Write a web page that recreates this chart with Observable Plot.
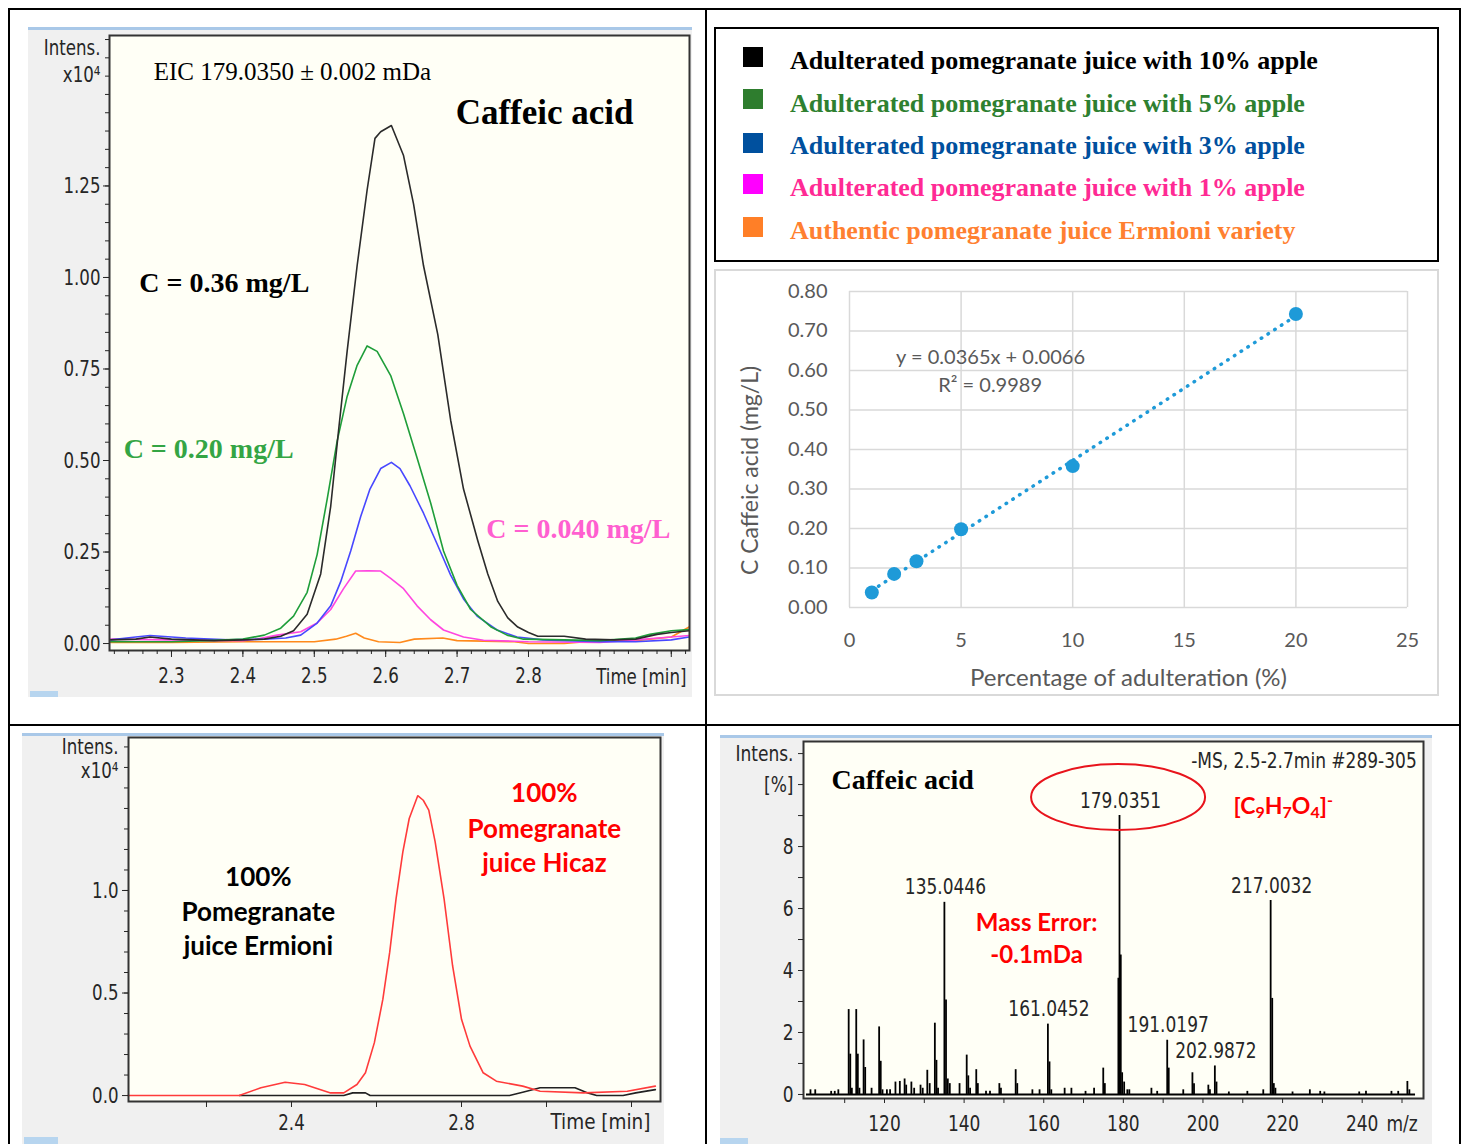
<!DOCTYPE html>
<html><head><meta charset="utf-8">
<script src="https://cdn.jsdelivr.net/npm/d3@7"></script>
<script src="https://cdn.jsdelivr.net/npm/@observablehq/plot@0.6"></script>
<style>
body{margin:0;background:#fff;}
#page{position:relative;width:1467px;height:1144px;overflow:hidden;background:#fff;}
.abs{position:absolute;}
</style></head><body><div id="page"></div>
<script>
// ---------- DATA ----------
// Top-left: EIC chromatograms (time [min], intensity x10^4)
const eic10 = [[2.215,0.01],[2.25,0.012],[2.27,0.018],[2.30,0.012],[2.33,0.01],[2.36,0.008],[2.40,0.01],[2.43,0.012],[2.453,0.02],[2.471,0.035],[2.490,0.08],[2.509,0.19],[2.523,0.375],[2.534,0.582],[2.546,0.798],[2.560,1.032],[2.574,1.239],[2.585,1.38],[2.593,1.398],[2.608,1.415],[2.625,1.333],[2.639,1.201],[2.653,1.032],[2.673,0.844],[2.691,0.610],[2.709,0.422],[2.729,0.281],[2.743,0.19],[2.757,0.115],[2.771,0.07],[2.785,0.045],[2.80,0.03],[2.813,0.02],[2.85,0.02],[2.88,0.012],[2.92,0.01],[2.95,0.012],[2.98,0.025],[3.0,0.03],[3.025,0.035]];
const eic5 = [[2.215,0.005],[2.30,0.005],[2.35,0.008],[2.40,0.012],[2.43,0.023],[2.453,0.042],[2.471,0.075],[2.490,0.140],[2.504,0.243],[2.518,0.394],[2.532,0.553],[2.546,0.675],[2.560,0.760],[2.574,0.813],[2.588,0.798],[2.607,0.732],[2.625,0.628],[2.644,0.507],[2.663,0.384],[2.681,0.253],[2.700,0.159],[2.719,0.093],[2.747,0.046],[2.770,0.023],[2.793,0.012],[2.85,0.01],[2.90,0.008],[2.95,0.015],[2.97,0.025],[3.0,0.035],[3.025,0.038]];
const eic3 = [[2.215,0.01],[2.25,0.018],[2.27,0.022],[2.32,0.015],[2.38,0.01],[2.43,0.012],[2.46,0.015],[2.481,0.023],[2.504,0.056],[2.523,0.103],[2.537,0.169],[2.551,0.253],[2.565,0.347],[2.578,0.422],[2.593,0.478],[2.608,0.495],[2.620,0.478],[2.634,0.431],[2.653,0.356],[2.672,0.272],[2.691,0.187],[2.709,0.122],[2.728,0.075],[2.756,0.037],[2.784,0.018],[2.82,0.01],[2.9,0.005],[2.95,0.005],[3.0,0.01],[3.025,0.018]];
const eic1 = [[2.215,0.012],[2.30,0.01],[2.40,0.008],[2.42,0.012],[2.448,0.023],[2.481,0.032],[2.504,0.056],[2.523,0.093],[2.541,0.150],[2.558,0.198],[2.575,0.199],[2.593,0.198],[2.607,0.178],[2.625,0.150],[2.644,0.103],[2.663,0.065],[2.681,0.037],[2.709,0.018],[2.737,0.009],[2.8,0.005],[2.9,0.003],[2.95,0.01],[3.0,0.018],[3.025,0.022]];
const eicAuth = [[2.215,0.003],[2.30,0.003],[2.40,0.005],[2.50,0.005],[2.53,0.012],[2.545,0.02],[2.558,0.028],[2.57,0.015],[2.59,0.005],[2.62,0.003],[2.64,0.012],[2.68,0.015],[2.70,0.008],[2.78,0.005],[2.80,0.0],[2.85,0.0],[2.88,0.005],[2.95,0.008],[3.0,0.018],[3.025,0.045]];

// Legend
const legendLabels = ["Adulterated pomegranate juice with 10% apple","Adulterated pomegranate juice with 5% apple","Adulterated pomegranate juice with 3% apple","Adulterated pomegranate juice with 1% apple","Authentic pomegranate juice Ermioni variety"];
const legendSwatch = ["#000000","#2e7d2e","#00509e","#ff00ff","#ff7f27"];
const legendText = ["#000000","#2e8030","#00509e","#ff2a94","#ff8030"];

// Top-right: calibration
const calPct = [1,2,3,5,10,20];
const calConc = [0.038,0.085,0.117,0.198,0.358,0.743];
const calXTicks = [0,5,10,15,20,25];
const calYTicks = [0,0.1,0.2,0.3,0.4,0.5,0.6,0.7,0.8];

// Bottom-left: chromatograms of 100% juices
const hicaz = [[2.015,0],[2.277,0],[2.328,0.038],[2.385,0.065],[2.431,0.054],[2.492,0.013],[2.523,0.013],[2.554,0.054],[2.574,0.111],[2.595,0.258],[2.615,0.470],[2.631,0.698],[2.646,0.959],[2.662,1.188],[2.677,1.351],[2.697,1.462],[2.710,1.44],[2.723,1.392],[2.738,1.237],[2.759,0.959],[2.779,0.633],[2.800,0.372],[2.820,0.241],[2.851,0.111],[2.882,0.070],[2.944,0.046],[2.985,0.021],[3.087,0.013],[3.190,0.021],[3.256,0.046]];
const ermioni = [[2.277,0],[2.523,0],[2.544,0.013],[2.574,0.013],[2.585,0],[2.913,0],[2.944,0.016],[2.985,0.038],[3.067,0.038],[3.097,0.013],[3.118,0],[3.18,0],[3.21,0.013],[3.256,0.029]];

// Bottom-right: MS spectrum (m/z, intensity %)
const msMz = [101.4,102.6,106.6,107.5,108.4, 111.0,111.4,111.8, 112.9,113.3,113.7, 114.75,115.15, 116.75, 118.65,119.05,119.5, 120.6,121.4, 122.75,123.85,125.05,125.45,126.75,127.45,129.05,129.6, 130.75,131.35, 132.65,133.05,133.45, 135.0446,135.45,135.9,136.4, 138.85, 140.65,141.05,141.5, 143.05,143.45, 145.5,146.5, 148.85,149.25, 152.95,153.35, 157.15,158.95, 161.0452,161.45,161.9, 165.25,166.95,170.5,172.65, 174.95,175.35, 178.75,179.0351,179.35,179.7,180.2,181.0,181.5, 187.05,188.5, 191.0197,191.4, 195.05, 197.35,197.75, 201.35,201.75, 202.9872,203.4, 206.5,211.15,215.15, 217.0032,217.4,217.8,218.2, 222.5,226.85,229.45,230.5,239.25,240.95,247.35,249.05,251.35,251.85];
const msInt = [0.15,0.15,0.1,0.1,0.15, 2.74,1.3,0.2, 2.74,1.3,0.2, 1.76,0.87, 0.2, 2.18,1.07,0.15, 0.15,0.15, 0.4,0.42,0.5,0.3,0.4,0.2,0.3,0.2, 0.78,0.35, 2.3,1.1,0.2, 6.2,3.05,0.5,0.35, 0.35, 1.27,0.6,0.2, 0.8,0.35, 0.1,0.1, 0.35,0.2, 0.8,0.35, 0.15,0.15, 2.27,1.05,0.15, 0.2,0.2,0.1,0.2, 0.85,0.35, 3.75,9.0,4.5,0.7,0.4,0.15,0.15, 0.2,0.1, 1.75,0.85, 0.15, 0.7,0.35, 0.3,0.15, 0.92,0.4, 0.08,0.1,0.15, 6.26,3.1,0.35,0.2, 0.08,0.15,0.1,0.08,0.08,0.1,0.1,0.1,0.42,0.15];
const msLabelMz = [135.0446,161.0452,179.0351,191.0197,202.9872,217.0032];

// ---------- LAYOUT ----------
const page = document.getElementById("page");
function box(x,y,w,h,style){const d=document.createElement("div");d.className="abs";Object.assign(d.style,{left:x+"px",top:y+"px",width:w+"px",height:h+"px"},style||{});page.appendChild(d);return d;}
function place(node,x,y,w,h){const d=box(x,y,w,h);d.appendChild(node);return d;}
// horizontally condense software-style labels (must be in the DOM)
function condense(svg, k){
  svg.querySelectorAll("text").forEach(t => {
    if (t.querySelector("tspan")) return;
    const g = t.closest("[font-family]");
    if (g && g !== svg) return;
    const len = t.getComputedTextLength();
    if (!(len > 0)) return;
    t.setAttribute("textLength", (len * k).toFixed(2));
    t.setAttribute("lengthAdjust", "spacingAndGlyphs");
  });
}

const NARROW = "'Liberation Sans Narrow','DejaVu Sans Condensed',sans-serif";
const SERIF = "'Liberation Serif','Times New Roman',serif";
const CAL = "Lato,'Open Sans',sans-serif";
const pts = a => a.map(([t,v]) => ({t, v}));

// ---------- TOP-LEFT ----------
const tl = Plot.plot({
  width: 664, height: 670,
  marginLeft: 81, marginRight: 3, marginTop: 8, marginBottom: 47,
  x: {domain: [2.2132, 3.0255], label: null},
  y: {domain: [-0.019, 1.661], label: null},
  style: {background: "#f0f0f0", fontFamily: NARROW, fontSize: "22px", color: "#262626"},
  marks: [
    Plot.frame({fill: "#fffff6"}),
    Plot.line(pts(eicAuth), {x: "t", y: "v", stroke: "#ff8a1c", strokeWidth: 1.6}),
    Plot.line(pts(eic1), {x: "t", y: "v", stroke: "#ff46e0", strokeWidth: 1.6}),
    Plot.line(pts(eic3), {x: "t", y: "v", stroke: "#4848ff", strokeWidth: 1.6}),
    Plot.line(pts(eic5), {x: "t", y: "v", stroke: "#1f9e3a", strokeWidth: 1.6}),
    Plot.line(pts(eic10), {x: "t", y: "v", stroke: "#2b2b2b", strokeWidth: 1.6}),
    Plot.frame({stroke: "#333", strokeWidth: 2}),
    Plot.axisY([0,0.25,0.5,0.75,1.0,1.25], {tickSize: 6, tickPadding: 3, tickFormat: ".2f", label: null}),
    Plot.axisY(d3.range(0.05,1.66,0.05), {tickSize: 4, tickFormat: () => "", label: null}),
    Plot.axisX([2.3,2.4,2.5,2.6,2.7,2.8,2.9,3.0], {tickSize: 7, tickPadding: 10, tickFormat: d => d <= 2.8 ? d.toFixed(1) : "", label: null}),
    Plot.axisX(d3.range(2.22,3.025,0.02), {tickSize: 4, tickFormat: () => "", label: null}),
    Plot.text(["Intens."], {x: 2.2132, y: 1.628, text: d => d, textAnchor: "end", dx: -9}),
    Plot.text(["x10⁴"], {x: 2.2132, y: 1.552, text: d => d, textAnchor: "end", dx: -9}),
    Plot.text(["Time [min]"], {x: 2.958, y: -0.019, text: d => d, dy: 26}),
    Plot.text(["EIC 179.0350 ± 0.002 mDa"], {x: 2.275, y: 1.56, text: d => d, textAnchor: "start", fontFamily: SERIF, fontSize: 25, fill: "#000"}),
    Plot.text(["Caffeic acid"], {x: 2.698, y: 1.451, text: d => d, textAnchor: "start", fontFamily: SERIF, fontSize: 35, fontWeight: "bold", fill: "#000"}),
    Plot.text(["C = 0.36 mg/L"], {x: 2.255, y: 0.986, text: d => d, textAnchor: "start", fontFamily: SERIF, fontSize: 28, fontWeight: "bold", fill: "#000"}),
    Plot.text(["C = 0.20 mg/L"], {x: 2.233, y: 0.530, text: d => d, textAnchor: "start", fontFamily: SERIF, fontSize: 28, fontWeight: "bold", fill: "#34a544"}),
    Plot.text(["C = 0.040 mg/L"], {x: 2.741, y: 0.314, text: d => d, textAnchor: "start", fontFamily: SERIF, fontSize: 28, fontWeight: "bold", fill: "#ff5fd0"})
  ]
});
place(tl, 28, 27, 664, 670);
condense(tl, 0.84);
box(28, 27, 664, 3, {background: "#a9c8e8"});
box(30, 691, 28, 6, {background: "#b7d5ef"});

// ---------- LEGEND ----------
box(714, 27, 725, 235, {border: "2px solid #000", boxSizing: "border-box", background: "#fff"});
const lgTop = [47, 89, 133, 174, 217];
const lgBase = [70, 112.5, 155, 197, 240];
legendLabels.forEach((lab, i) => {
  box(743, lgTop[i], 20, 20, {background: legendSwatch[i]});
  const t = box(790, lgBase[i] - 22, 640, 26, {font: `bold 26px ${SERIF}`, lineHeight: "26px", color: legendText[i], whiteSpace: "nowrap"});
  t.textContent = lab;
});

// ---------- TOP-RIGHT (calibration) ----------
const calib = calPct.map((p, i) => ({pct: p, conc: calConc[i]}));
const sc = Plot.plot({
  width: 725, height: 427,
  marginLeft: 135, marginRight: 32, marginTop: 22, marginBottom: 89,
  x: {domain: [0, 25], label: null},
  y: {domain: [0, 0.8], label: null},
  style: {background: "#fff", fontFamily: CAL, fontSize: "20px", color: "#595959"},
  marks: [
    Plot.gridX(calXTicks, {stroke: "#d9d9d9", strokeOpacity: 1, strokeWidth: 1.5}),
    Plot.gridY(calYTicks, {stroke: "#d9d9d9", strokeOpacity: 1, strokeWidth: 1.5}),
    Plot.axisX(calXTicks, {tickSize: 0, tickPadding: 25, label: null}),
    Plot.axisY(calYTicks, {tickSize: 0, tickPadding: 22, tickFormat: ".2f", label: null}),
    Plot.linearRegressionY(calib, {x: "pct", y: "conc", ci: 0, stroke: "#1e9ad8", strokeWidth: 3.5, strokeDasharray: "0.5 7.5", strokeLinecap: "round"}),
    Plot.dot(calib, {x: "pct", y: "conc", r: 7, fill: "#1e9ad8"}),
    Plot.text(["y = 0.0365x + 0.0066"], {x: 6.32, y: 0.633, text: d => d, fontSize: 20, fill: "#595959"}),
    Plot.text(["R² = 0.9989"], {x: 6.3, y: 0.562, text: d => d, fontSize: 20, fill: "#595959"}),
    Plot.text(["Percentage of adulteration (%)"], {x: 12.5, y: -0.18, text: d => d, fontSize: 24, fill: "#595959"}),
    Plot.text(["C Caffeic acid (mg/L)"], {x: -4.43, y: 0.347, text: d => d, rotate: -90, fontSize: 23, fill: "#595959"})
  ]
});
place(sc, 714, 269, 725, 427);
box(714, 269, 725, 427, {border: "2px solid #d9d9d9", boxSizing: "border-box"});

// ---------- BOTTOM-LEFT ----------
const bl = Plot.plot({
  width: 642, height: 411,
  marginLeft: 106, marginRight: 4, marginTop: 4, marginBottom: 43,
  x: {domain: [2.0165, 3.2682], label: null},
  y: {domain: [-0.029, 1.746], label: null},
  style: {background: "#f0f0f0", fontFamily: NARROW, fontSize: "22px", color: "#262626"},
  marks: [
    Plot.frame({fill: "#fffff6"}),
    Plot.line(pts(ermioni), {x: "t", y: "v", stroke: "#222", strokeWidth: 1.6}),
    Plot.line(pts(hicaz), {x: "t", y: "v", stroke: "#ff3b3b", strokeWidth: 1.6}),
    Plot.frame({stroke: "#333", strokeWidth: 2}),
    Plot.axisY([0, 0.5, 1.0], {tickSize: 6, tickPadding: 4, tickFormat: ".1f", label: null}),
    Plot.axisY(d3.range(0.1, 1.75, 0.1), {tickSize: 4, tickFormat: () => "", label: null}),
    Plot.axisX([2.2,2.4,2.6,2.8,3.0,3.2], {tickSize: 6, tickPadding: 7, tickFormat: d => (Math.abs(d-2.4)<1e-9 || Math.abs(d-2.8)<1e-9) ? d.toFixed(1) : "", label: null}),
    Plot.text(["Intens."], {x: 2.0165, y: 1.698, text: d => d, textAnchor: "end", dx: -10}),
    Plot.text(["x10⁴"], {x: 2.0165, y: 1.585, text: d => d, textAnchor: "end", dx: -10}),
    Plot.text(["Time [min]"], {x: 3.127, y: -0.029, text: d => d, dy: 20}),
    Plot.text(["100%", "Pomegranate", "juice Ermioni"], {x: 2.322, y: [1.063, 0.893, 0.727], text: d => d, fontFamily: CAL, fontSize: 26, fontWeight: "bold", fill: "#000"}),
    Plot.text(["100%", "Pomegranate", "juice Hicaz"], {x: 2.995, y: [1.473, 1.298, 1.132], text: d => d, fontFamily: CAL, fontSize: 26, fontWeight: "bold", fill: "#ff0000"})
  ]
});
place(bl, 22, 733, 642, 411);
condense(bl, 0.84);
bl.querySelectorAll("text").forEach(t => { if (t.textContent === "Time [min]") { t.setAttribute("textLength", "100"); t.setAttribute("lengthAdjust", "spacingAndGlyphs"); } });
box(22, 733, 642, 3, {background: "#a9c8e8"});
box(24, 1137, 34, 7, {background: "#b7d5ef"});

// ---------- BOTTOM-RIGHT (MS spectrum) ----------
const peaks = msMz.map((m, i) => ({mz: m, int: msInt[i]}));
const labelled = msLabelMz.map(m => ({mz: m, int: msInt[msMz.indexOf(m)], label: m.toFixed(4)}));
const yLabels = {0: "0", 2: "2", 4: "4", 6: "6", 8: "8", 10: "[%]", 11: "Intens."};
const ellipseMark = (index, {x, y}) => {
  const e = document.createElementNS("http://www.w3.org/2000/svg", "ellipse");
  e.setAttribute("cx", x(178.8)); e.setAttribute("cy", y(9.58));
  e.setAttribute("rx", 87); e.setAttribute("ry", 33);
  e.setAttribute("fill", "none"); e.setAttribute("stroke", "#e8141c"); e.setAttribute("stroke-width", 2);
  return e;
};
const br = Plot.plot({
  width: 712, height: 409,
  marginLeft: 83, marginRight: 9, marginTop: 6, marginBottom: 46,
  x: {domain: [99.65, 255.4], label: null},
  y: {domain: [-0.13, 11.39], label: null},
  style: {background: "#f0f0f0", fontFamily: NARROW, fontSize: "22px", color: "#262626"},
  marks: [
    Plot.frame({fill: "#fffff6"}),
    Plot.ruleY([0], {x1: 100.4, x2: 253.4, stroke: "#000", strokeWidth: 2}),
    Plot.ruleX(peaks, {x: "mz", y1: 0, y2: "int", stroke: "#000", strokeWidth: 1.8}),
    Plot.frame({stroke: "#333", strokeWidth: 2}),
    Plot.axisY([0,1,2,3,4,5,6,7,8,9,10,11], {tickSize: 5, tickPadding: 5, tickFormat: d => yLabels[d] ?? "", label: null}),
    Plot.axisX(d3.range(110, 251, 10), {tickSize: 5, tickPadding: 12, tickFormat: d => d === 250 ? "m/z" : (d % 20 === 0 ? String(d) : ""), label: null}),
    Plot.text(labelled, {x: "mz", y: "int", text: "label", dy: -15, dx: 1, fill: "#262626"}),
    Plot.text(["-MS, 2.5-2.7min #289-305"], {x: 253.7, y: 10.77, text: d => d, textAnchor: "end", fill: "#262626"}),
    Plot.text(["Caffeic acid"], {x: 106.7, y: 10.16, text: d => d, textAnchor: "start", fontFamily: SERIF, fontSize: 28, fontWeight: "bold", fill: "#000"}),
    Plot.text(["[C9H7O4]-"], {x: 207.7, y: 9.29, text: d => d, textAnchor: "start", fontFamily: CAL, fontSize: 23, fontWeight: "bold", fill: "#ff0000"}),
    Plot.text(["Mass Error:", "-0.1mDa"], {x: 158.2, y: [5.52, 4.48], text: d => d, fontFamily: CAL, fontSize: 24, fontWeight: "bold", fill: "#ff0000"}),
    ellipseMark
  ]
});
// chemical formula with real sub/superscripts
br.querySelectorAll("text").forEach(t => {
  if (t.textContent !== "[C9H7O4]-") return;
  t.textContent = "";
  [["[C",""],["9","sub"],["H",""],["7","sub"],["O",""],["4","sub"],["]",""],["-","super"]].forEach(([s, b]) => {
    const ts = document.createElementNS("http://www.w3.org/2000/svg", "tspan");
    ts.textContent = s;
    if (b) { ts.setAttribute("baseline-shift", b === "sub" ? "-4" : "8"); ts.setAttribute("font-size", "16"); }
    t.appendChild(ts);
  });
});
place(br, 720, 735, 712, 409);
condense(br, 0.86);
box(720, 735, 712, 3, {background: "#a9c8e8"});
box(720, 1138, 28, 6, {background: "#b7d5ef"});

// ---------- TABLE LINES ----------
box(8, 8, 1453, 2, {background: "#000"});
box(8, 8, 2, 1136, {background: "#000"});
box(1459, 8, 2, 1136, {background: "#000"});
box(705, 8, 2, 1136, {background: "#000"});
box(8, 724, 1453, 2, {background: "#000"});
</script></body></html>
